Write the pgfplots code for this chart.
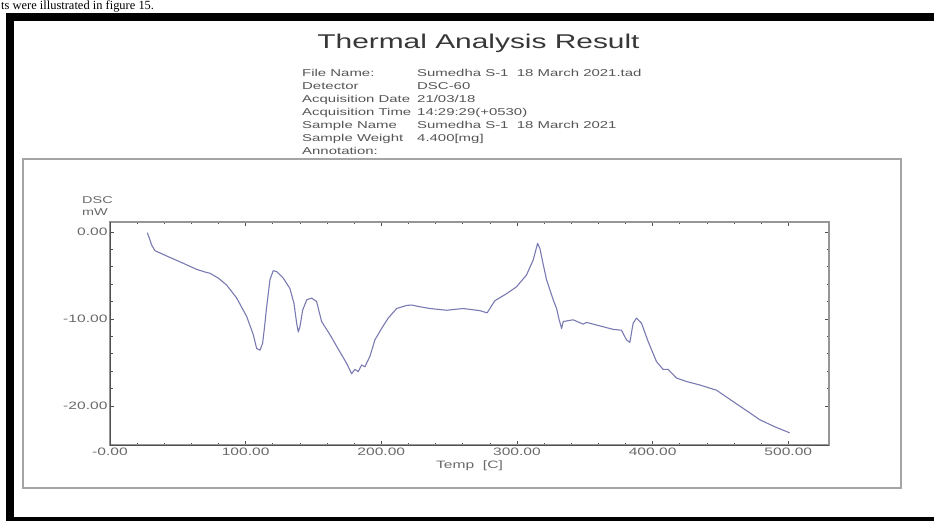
\documentclass[border=0pt]{standalone}
\usepackage{pgfplots}
\pgfplotsset{compat=1.18}
\usepackage{fontspec}
\setmainfont{Liberation Sans}
\newfontfamily\titlefont[FakeStretch=1.5]{Liberation Sans}
\newfontfamily\infofont[FakeStretch=1.5]{Liberation Sans}
\newfontfamily\tickfont[FakeStretch=1.45]{Liberation Sans}
\newfontfamily\docfont{Liberation Serif}
\definecolor{curve}{RGB}{122,122,178}
\definecolor{titlegray}{RGB}{55,55,55}
\definecolor{infogray}{RGB}{85,85,85}
\definecolor{tickgray}{RGB}{105,105,105}
\definecolor{boxgray}{RGB}{165,165,165}
\definecolor{axisdark}{RGB}{80,80,80}
\definecolor{axislight}{RGB}{150,150,150}
\begin{document}
\begin{tikzpicture}
\path[use as bounding box] (0,0) rectangle (934bp,521bp);
\begin{scope}
\clip (0,0) rectangle (934bp,521bp);
% document text at the top
\node[anchor=base west, inner sep=0pt, font=\docfont\fontsize{12.5}{12.5}\selectfont] at (1bp,511.5bp) {ts were illustrated in figure 15.};
% black frame
\fill[black] (6bp,500bp) rectangle (940bp,508bp);
\fill[black] (6bp,-5bp) rectangle (14bp,508bp);
\fill[black] (6bp,-5bp) rectangle (940bp,4bp);
\end{scope}
% grey panel
\draw[boxgray, line width=2bp] (23bp,33bp) rectangle (901bp,362bp);
% title
\node[anchor=base, inner sep=0pt, text=titlegray, font=\titlefont\fontsize{20}{20}\selectfont] at (478.5bp,472bp) {Thermal Analysis Result};
% info block
\begin{scope}[every node/.style={anchor=base west, inner sep=0pt, text=infogray, font=\infofont\fontsize{10}{10}\selectfont}]
\node at (302bp,444.5bp) {File Name:};
\node at (417bp,444.5bp) {Sumedha S-1\ \ 18 March 2021.tad};
\node at (302bp,431.5bp) {Detector};
\node at (417bp,431.5bp) {DSC-60};
\node at (302bp,418.5bp) {Acquisition Date};
\node at (417bp,418.5bp) {21/03/18};
\node at (302bp,405.5bp) {Acquisition Time};
\node at (417bp,405.5bp) {14:29:29(+0530)};
\node at (302bp,392.5bp) {Sample Name};
\node at (417bp,392.5bp) {Sumedha S-1\ \ 18 March 2021};
\node at (302bp,379.5bp) {Sample Weight};
\node at (417bp,379.5bp) {4.400[mg]};
\node at (302bp,366.5bp) {Annotation:};
\end{scope}
% y unit label
\begin{scope}[every node/.style={anchor=base west, inner sep=0pt, text=tickgray, font=\tickfont\fontsize{10}{10}\selectfont}]
\node at (82bp,317bp) {DSC};
\node at (82bp,305bp) {mW};
\end{scope}
\begin{axis}[
  at={(110bp,76bp)}, anchor=south west,
  scale only axis, width=719bp, height=223bp,
  xmin=0, xmax=530, ymin=-24.5, ymax=1.15,
  xtick={0,100,200,300,400,500},
  xticklabels={-0.00,100.00,200.00,300.00,400.00,500.00},
  ytick={-20,-10,0},
  yticklabels={-20.00,-10.00,0.00},
  minor x tick num=4, minor y tick num=4,
  tick align=inside,
  major tick length=4bp, minor tick length=2.5bp,
  tick style={axisdark, line width=0.6bp},
  axis line style={axislight, line width=1.3bp},
  ticklabel style={text=tickgray, font=\tickfont\fontsize{10.8}{10.8}\selectfont},
  xticklabel style={yshift=1bp},
  yticklabel style={xshift=1bp},
  xlabel={Temp\ \ [C]},
  x label style={at={(axis description cs:0.5,-0.095)}, anchor=center, text=tickgray, font=\tickfont\fontsize{10.8}{10.8}\selectfont},
  clip=false,
  after end axis/.code={
    \draw[axisdark, line width=0.9bp] (rel axis cs:0,1) -- (rel axis cs:0,0) -- (rel axis cs:1,0);
  },
]
\addplot[curve, line width=1.1bp, mark=none, line join=round] coordinates {
(27.5,-0.08) (29.2,-0.8) (30.7,-1.5) (33.2,-2.15) (41.8,-2.76) (54,-3.6) (63.9,-4.3) (70,-4.6) (73.7,-4.75)
(79.8,-5.3) (86,-6.1) (93.4,-7.6) (100.7,-9.7) (105.6,-11.8) (108.1,-13.4) (110.5,-13.6)
(112.5,-12.8) (114,-10.8) (115.5,-8.6) (117.9,-5.5) (120.3,-4.45) (122.8,-4.55) (127.7,-5.3) (132.6,-6.5)
(135.6,-8.2) (137.6,-10.5) (138.8,-11.5) (140,-10.9) (142,-9.0) (145,-7.8) (148.6,-7.6)
(152.3,-8.0) (156,-10.3) (162.1,-11.8) (169.5,-13.8) (174.4,-15.1) (178.1,-16.3) (180.5,-15.8)
(183,-16.05) (185.5,-15.3) (187.9,-15.5) (191.6,-14.3) (195.3,-12.4) (200.2,-11.1) (205.1,-9.9)
(211.3,-8.8) (218.6,-8.45) (222.3,-8.4) (228.4,-8.6) (235.8,-8.8) (248.1,-9.0) (260.4,-8.8)
(272.7,-9.05) (278,-9.3) (283.7,-7.9) (292.3,-7.1) (299.7,-6.3) (307,-4.95) (312,-3.2)
(315.2,-1.3) (316.9,-1.9) (319.3,-3.7) (321.8,-5.5) (326.7,-7.8) (329.2,-8.8) (331.1,-10.1) (332.9,-11.1)
(334.1,-10.3) (341.4,-10.1) (348.8,-10.6) (351.3,-10.4) (361.1,-10.8) (370.9,-11.2) (377,-11.3)
(380.7,-12.4) (383.2,-12.7) (385.6,-10.5) (388.1,-9.9) (391.8,-10.5) (396.7,-12.6) (402.8,-14.9)
(407.7,-15.8) (411.4,-15.8) (417.6,-16.8) (425,-17.2) (434.8,-17.6) (447.1,-18.2) (459.3,-19.5)
(471.6,-20.8) (479,-21.6) (490,-22.4) (501,-23.1)
};
\end{axis}
\end{tikzpicture}
\end{document}
